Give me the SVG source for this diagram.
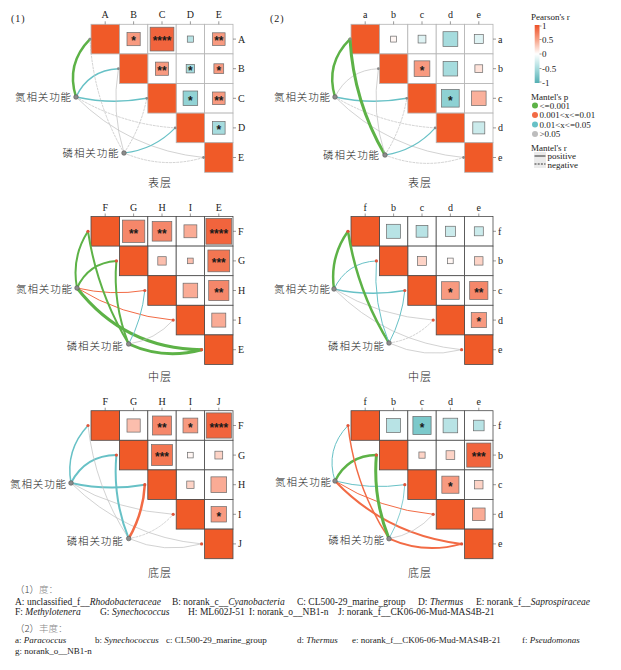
<svg xmlns="http://www.w3.org/2000/svg" xmlns:xlink="http://www.w3.org/1999/xlink" width="621" height="670" viewBox="0 0 621 670">
<style>
text{font-family:"Liberation Serif","Times New Roman",serif;fill:#222}
.cjk{font-family:"Noto Sans CJK SC","Noto Sans CJK JP",sans-serif;font-weight:300}
.lab{font-size:10px}
.st text{font-family:"Liberation Sans",Arial,sans-serif;font-size:12px;font-weight:bold;text-anchor:middle;fill:#1a1a1a}
.sq rect{stroke:#6a6a6a;stroke-width:0.7}
.gl1{stroke:#b4b4b4;stroke-width:0.8}
.gl2{stroke:#4a4a4a;stroke-width:0.8}
.tk{stroke:#555;stroke-width:0.6}
.cn path{fill:none;stroke-linecap:round}
.g{stroke:#5DB247}
.o{stroke:#F26B45}
.t{stroke:#67C1C6}
.s{stroke:#BEBEBE;stroke-width:0.7}
.d{stroke:#BEBEBE;stroke-width:0.7;stroke-dasharray:2 1.6}
.nd{fill:#8c8c8c;stroke:#555;stroke-width:0.6}
.ed1{fill:#8a8a8a}
.ed2{fill:#E0553A}
.ft{font-size:9.5px}
.ft2{font-size:9px}
.it{font-style:italic}
.lg{font-size:9px}
</style>
<defs>
<g id="grid">
<rect x="28.4" y="0" width="28.4" height="29.6" fill="#fff"/>
<rect x="56.8" y="0" width="28.4" height="29.6" fill="#fff"/>
<rect x="85.2" y="0" width="28.4" height="29.6" fill="#fff"/>
<rect x="113.6" y="0" width="28.4" height="29.6" fill="#fff"/>
<rect x="56.8" y="29.6" width="28.4" height="29.6" fill="#fff"/>
<rect x="85.2" y="29.6" width="28.4" height="29.6" fill="#fff"/>
<rect x="113.6" y="29.6" width="28.4" height="29.6" fill="#fff"/>
<rect x="85.2" y="59.2" width="28.4" height="29.6" fill="#fff"/>
<rect x="113.6" y="59.2" width="28.4" height="29.6" fill="#fff"/>
<rect x="113.6" y="88.8" width="28.4" height="29.6" fill="#fff"/>
<rect x="0" y="0" width="28.4" height="29.6" fill="#F05A28"/>
<rect x="28.4" y="29.6" width="28.4" height="29.6" fill="#F05A28"/>
<rect x="56.8" y="59.2" width="28.4" height="29.6" fill="#F05A28"/>
<rect x="85.2" y="88.8" width="28.4" height="29.6" fill="#F05A28"/>
<rect x="113.6" y="118.4" width="28.4" height="29.6" fill="#F05A28"/>
</g>
<path id="ticks" class="tk" d="M14.2 -3V0M42.6 -3V0M71 -3V0M99.4 -3V0M127.8 -3V0M142 14.8H145M142 44.4H145M142 74H145M142 103.6H145M142 133.2H145"/>
<linearGradient id="cbar" x1="0" y1="0" x2="0" y2="1">
<stop offset="0" stop-color="#EE5128"/>
<stop offset="0.25" stop-color="#F7A186"/>
<stop offset="0.5" stop-color="#FFFFFF"/>
<stop offset="0.75" stop-color="#A8DCDE"/>
<stop offset="1" stop-color="#53AFB3"/>
</linearGradient>
</defs>
<rect width="621" height="670" fill="#fff"/>

<text x="11" y="22" class="lab" letter-spacing="1">(1)</text>
<text x="270" y="22" class="lab" letter-spacing="1">(2)</text>

<!-- Panel 1 -->
<g id="matrix1" transform="translate(91,24.3)">
<use href="#grid" class="gl1"/>
<use href="#ticks"/>
<g class="sq">
<rect x="36" y="8.2" width="13.2" height="13.2" fill="#F89A80"/>
<rect x="59.1" y="2.9" width="23.8" height="23.8" fill="#F1643D"/>
<rect x="96.3" y="11.7" width="6.2" height="6.2" fill="#B8E3E5"/>
<rect x="121.5" y="8.5" width="12.6" height="12.6" fill="#F89A80"/>
<rect x="64.4" y="37.8" width="13.2" height="13.2" fill="#F89A80"/>
<rect x="95.2" y="40.2" width="8.4" height="8.4" fill="#A6DCDE"/>
<rect x="122.9" y="39.5" width="9.8" height="9.8" fill="#F89A80"/>
<rect x="92.1" y="66.7" width="14.6" height="14.6" fill="#92D3D5"/>
<rect x="121.5" y="67.7" width="12.6" height="12.6" fill="#F89A80"/>
<rect x="121.5" y="97.3" width="12.6" height="12.6" fill="#A6DCDE"/>
</g>
<g class="st">
<text x="42.6" y="21.1">*</text><text x="71" y="21.1">****</text><text x="127.8" y="21.1">**</text>
<text x="71" y="50.7">**</text><text x="99.4" y="50.7">*</text><text x="127.8" y="50.7">*</text>
<text x="99.4" y="80.3">*</text><text x="127.8" y="80.3">**</text><text x="127.8" y="109.9">*</text>
</g>
<g class="lab" text-anchor="middle">
<text x="14.2" y="-6">A</text><text x="42.6" y="-6">B</text><text x="71" y="-6">C</text><text x="99.4" y="-6">D</text><text x="127.8" y="-6">E</text>
</g>
<g class="lab">
<text x="147" y="18.3">A</text><text x="147" y="47.9">B</text><text x="147" y="77.5">C</text><text x="147" y="107.1">D</text><text x="147" y="136.7">E</text>
</g>
</g>

<!-- Panel 2 -->
<g id="matrix2" transform="translate(351,24.3)">
<use href="#grid" class="gl1"/>
<use href="#ticks"/>
<g class="sq">
<rect x="39.65" y="11.85" width="5.9" height="5.9" fill="#FFF6F3"/>
<rect x="67.1" y="10.9" width="7.8" height="7.8" fill="#DFF3F4"/>
<rect x="92" y="7.4" width="14.8" height="14.8" fill="#A6DCDE"/>
<rect x="123.3" y="10.3" width="9" height="9" fill="#DFF3F4"/>
<rect x="63.15" y="36.55" width="15.7" height="15.7" fill="#F89A80"/>
<rect x="92.1" y="37.1" width="14.6" height="14.6" fill="#A6DCDE"/>
<rect x="123.9" y="40.5" width="7.8" height="7.8" fill="#FEE2D9"/>
<rect x="90.6" y="65.2" width="17.6" height="17.6" fill="#8ED1D3"/>
<rect x="120.5" y="66.7" width="14.6" height="14.6" fill="#FAB09B"/>
<rect x="121.8" y="97.6" width="12" height="12" fill="#CBEBEC"/>
</g>
<g class="st">
<text x="71" y="50.7">*</text><text x="99.4" y="80.3">*</text>
</g>
<g class="lab" text-anchor="middle">
<text x="14.2" y="-6">a</text><text x="42.6" y="-6">b</text><text x="71" y="-6">c</text><text x="99.4" y="-6">d</text><text x="127.8" y="-6">e</text>
</g>
<g class="lab">
<text x="147" y="18.3">a</text><text x="147" y="47.9">b</text><text x="147" y="77.5">c</text><text x="147" y="107.1">d</text><text x="147" y="136.7">e</text>
</g>
</g>

<!-- Panel 3 -->
<g id="matrix3" transform="translate(91,216.5)">
<use href="#grid" class="gl2"/>
<use href="#ticks"/>
<g class="sq">
<rect x="31.4" y="3.6" width="22.4" height="22.4" fill="#F5876A"/>
<rect x="61.2" y="5" width="19.6" height="19.6" fill="#F5876A"/>
<rect x="92.95" y="8.35" width="12.9" height="12.9" fill="#FAAB95"/>
<rect x="114.9" y="1.9" width="25.8" height="25.8" fill="#F1643D"/>
<rect x="66.8" y="40.2" width="8.4" height="8.4" fill="#FBBEAD"/>
<rect x="96.6" y="41.6" width="5.6" height="5.6" fill="#FBBEAD"/>
<rect x="116.9" y="33.5" width="21.8" height="21.8" fill="#F37652"/>
<rect x="92.1" y="66.7" width="14.6" height="14.6" fill="#FAAB95"/>
<rect x="117.7" y="63.9" width="20.2" height="20.2" fill="#F5876A"/>
<rect x="120.8" y="96.6" width="14" height="14" fill="#FAAB95"/>
</g>
<g class="st">
<text x="42.6" y="21.1">**</text><text x="71" y="21.1">**</text><text x="127.8" y="21.1">****</text>
<text x="127.8" y="50.7">***</text><text x="127.8" y="80.3">**</text>
</g>
<g class="lab" text-anchor="middle">
<text x="14.2" y="-6">F</text><text x="42.6" y="-6">G</text><text x="71" y="-6">H</text><text x="99.4" y="-6">I</text><text x="127.8" y="-6">E</text>
</g>
<g class="lab">
<text x="147" y="18.3">F</text><text x="147" y="47.9">G</text><text x="147" y="77.5">H</text><text x="147" y="107.1">I</text><text x="147" y="136.7">E</text>
</g>
</g>

<!-- Panel 4 -->
<g id="matrix4" transform="translate(351,216.5)">
<use href="#grid" class="gl2"/>
<use href="#ticks"/>
<g class="sq">
<rect x="35.6" y="7.8" width="14" height="14" fill="#B8E3E5"/>
<rect x="65.1" y="8.9" width="11.8" height="11.8" fill="#B8E3E5"/>
<rect x="94.35" y="9.75" width="10.1" height="10.1" fill="#CBEBEC"/>
<rect x="123.3" y="10.3" width="9" height="9" fill="#CBEBEC"/>
<rect x="66.5" y="39.9" width="9" height="9" fill="#FDD3C6"/>
<rect x="96.6" y="41.6" width="5.6" height="5.6" fill="#FFF6F3"/>
<rect x="123.6" y="40.2" width="8.4" height="8.4" fill="#FDD3C6"/>
<rect x="90.6" y="65.2" width="17.6" height="17.6" fill="#F89A80"/>
<rect x="118.7" y="64.9" width="18.2" height="18.2" fill="#F5876A"/>
<rect x="120.25" y="96.05" width="15.1" height="15.1" fill="#F89A80"/>
</g>
<g class="st">
<text x="99.4" y="80.3">*</text><text x="127.8" y="80.3">**</text><text x="127.8" y="109.9">*</text>
</g>
<g class="lab" text-anchor="middle">
<text x="14.2" y="-6">f</text><text x="42.6" y="-6">b</text><text x="71" y="-6">c</text><text x="99.4" y="-6">d</text><text x="127.8" y="-6">e</text>
</g>
<g class="lab">
<text x="147" y="18.3">f</text><text x="147" y="47.9">b</text><text x="147" y="77.5">c</text><text x="147" y="107.1">d</text><text x="147" y="136.7">e</text>
</g>
</g>

<!-- Panel 5 -->
<g id="matrix5" transform="translate(91,410.7)">
<use href="#grid" class="gl2"/>
<use href="#ticks"/>
<g class="sq">
<rect x="36" y="8.2" width="13.2" height="13.2" fill="#FBBEAD"/>
<rect x="61.5" y="5.3" width="19" height="19" fill="#F5876A"/>
<rect x="92" y="7.4" width="14.8" height="14.8" fill="#F89A80"/>
<rect x="115.2" y="2.2" width="25.2" height="25.2" fill="#F1643D"/>
<rect x="60.5" y="33.9" width="21" height="21" fill="#F37652"/>
<rect x="96.6" y="41.6" width="5.6" height="5.6" fill="#FFF6F3"/>
<rect x="123.9" y="40.5" width="7.8" height="7.8" fill="#FDD3C6"/>
<rect x="95.75" y="70.35" width="7.3" height="7.3" fill="#FDD3C6"/>
<rect x="119.95" y="66.15" width="15.7" height="15.7" fill="#FAAB95"/>
<rect x="120.1" y="95.9" width="15.4" height="15.4" fill="#F89A80"/>
</g>
<g class="st">
<text x="71" y="21.1">**</text><text x="99.4" y="21.1">*</text><text x="127.8" y="21.1">****</text>
<text x="71" y="50.7">***</text><text x="127.8" y="109.9">*</text>
</g>
<g class="lab" text-anchor="middle">
<text x="14.2" y="-6">F</text><text x="42.6" y="-6">G</text><text x="71" y="-6">H</text><text x="99.4" y="-6">I</text><text x="127.8" y="-6">J</text>
</g>
<g class="lab">
<text x="147" y="18.3">F</text><text x="147" y="47.9">G</text><text x="147" y="77.5">H</text><text x="147" y="107.1">I</text><text x="147" y="136.7">J</text>
</g>
</g>

<!-- Panel 6 -->
<g id="matrix6" transform="translate(351,410.7)">
<use href="#grid" class="gl2"/>
<use href="#ticks"/>
<g class="sq">
<rect x="35.6" y="7.8" width="14" height="14" fill="#B8E3E5"/>
<rect x="61.9" y="5.7" width="18.2" height="18.2" fill="#7CC9CB"/>
<rect x="92.1" y="7.5" width="14.6" height="14.6" fill="#B8E3E5"/>
<rect x="122.5" y="9.5" width="10.6" height="10.6" fill="#B8E3E5"/>
<rect x="67.9" y="41.3" width="6.2" height="6.2" fill="#FDD3C6"/>
<rect x="95.05" y="40.05" width="8.7" height="8.7" fill="#FDD3C6"/>
<rect x="115.75" y="32.35" width="24.1" height="24.1" fill="#F1643D"/>
<rect x="90.85" y="65.45" width="17.1" height="17.1" fill="#F89A80"/>
<rect x="123.6" y="69.8" width="8.4" height="8.4" fill="#FDD3C6"/>
<rect x="121.5" y="97.3" width="12.6" height="12.6" fill="#FAAB95"/>
</g>
<g class="st">
<text x="71" y="21.1">*</text><text x="127.8" y="50.7">***</text><text x="99.4" y="80.3">*</text>
</g>
<g class="lab" text-anchor="middle">
<text x="14.2" y="-6">f</text><text x="42.6" y="-6">b</text><text x="71" y="-6">c</text><text x="99.4" y="-6">d</text><text x="127.8" y="-6">e</text>
</g>
<g class="lab">
<text x="147" y="18.3">f</text><text x="147" y="47.9">b</text><text x="147" y="77.5">c</text><text x="147" y="107.1">d</text><text x="147" y="136.7">e</text>
</g>
</g>

<!-- Connectors -->
<g id="connectors" class="cn">
<path class="g" stroke-width="2.5" d="M76 97Q65.6 63.8 90 39.1"/>
<path class="t" stroke-width="1.5" d="M76 97Q88.7 70.1 118.4 68.7"/>
<path class="t" stroke-width="1.5" d="M76 97Q111.3 104.7 146.8 98.3"/>
<path class="d" d="M76 97Q121.9 124.4 175.2 127.9"/>
<path class="s" d="M76 97Q128.9 150.2 203.6 157.5"/>
<path class="d" d="M124 153Q93.3 100.1 90 39.1"/>
<path class="s" d="M124 153Q111.1 111.5 118.4 68.7"/>
<path class="d" d="M124 153Q140.9 127.9 146.8 98.3"/>
<path class="t" stroke-width="1.2" d="M124 153Q154.1 149.7 175.2 127.9"/>
<path class="d" d="M124 153Q163 169.6 203.6 157.5"/>

<path class="g" stroke-width="2.5" d="M335 97Q325.1 63.6 350 39.1"/>
<path class="s" d="M335 97Q348.2 69.8 378.4 68.7"/>
<path class="t" stroke-width="1.5" d="M335 97Q370.8 104.8 406.8 98.3"/>
<path class="d" d="M335 97Q381.4 124.5 435.2 127.9"/>
<path class="s" d="M335 97Q388.4 150.4 463.6 157.5"/>
<path class="g" stroke-width="3" d="M385 155Q353.6 101.3 350 39.1"/>
<path class="s" d="M385 155Q371.3 112.6 378.4 68.7"/>
<path class="d" d="M385 155Q401.6 128.8 406.8 98.3"/>
<path class="t" stroke-width="1.2" d="M385 155Q415 150.5 435.2 127.9"/>
<path class="d" d="M385 155Q423.9 170.4 463.6 157.5"/>

<path class="g" stroke-width="2" d="M77 288Q71.2 257.5 88 231.3"/>
<path class="g" stroke-width="2" d="M77 288Q88.6 262.6 116.4 260.9"/>
<path class="o" stroke-width="1" d="M77 288Q110.7 296 144.8 290.5"/>
<path class="o" stroke-width="1" d="M77 288Q121.3 315.6 173.2 320.1"/>
<path class="g" stroke-width="3" d="M77 288Q124.5 348.8 201.6 349.7"/>
<path class="g" stroke-width="2" d="M128.7 344Q97.1 291.7 88 231.3"/>
<path class="g" stroke-width="2" d="M128.7 344Q112.6 303.9 116.4 260.9"/>
<path class="t" stroke-width="1" d="M128.7 344Q142.1 318.9 144.8 290.5"/>
<path class="s" stroke-width="0.6" d="M128.7 344Q155.3 340.1 173.2 320.1"/>
<path class="g" stroke-width="3" d="M128.7 344Q164.1 360 201.6 349.7"/>

<path class="g" stroke-width="2.5" d="M334 289Q329.5 257.4 348 231.3"/>
<path class="t" stroke-width="1" d="M334 289Q346.8 262.2 376.4 260.9"/>
<path class="t" stroke-width="1.5" d="M334 289Q369.25 296.8 404.8 290.5"/>
<path class="s" stroke-width="0.6" d="M334 289Q379.9 316.5 433.2 320.1"/>
<path class="s" stroke-width="0.6" d="M334 289Q386.9 342.3 461.6 349.7"/>
<path class="g" stroke-width="2.5" d="M389 343Q357.3 291.3 348 231.3"/>
<path class="t" stroke-width="1" d="M389 343Q372.9 303.5 376.4 260.9"/>
<path class="t" stroke-width="1" d="M389 343Q402.2 318.3 404.8 290.5"/>
<path class="d" d="M389 343Q415.2 339.5 433.2 320.1"/>
<path class="s" stroke-width="0.6" d="M389 343Q424.1 359.4 461.6 349.7"/>

<path class="t" stroke-width="1.5" d="M71 483Q65.1 450 88 425.5"/>
<path class="t" stroke-width="2" d="M71 483Q85.3 455.4 116.4 455.1"/>
<path class="t" stroke-width="2" d="M71 483Q107.7 491.2 144.8 484.7"/>
<path class="s" stroke-width="0.6" d="M71 483Q118.3 510.9 173.2 514.3"/>
<path class="s" stroke-width="0.6" d="M71 483Q125.3 537 201.6 543.9"/>
<path class="s" stroke-width="0.8" d="M128.7 538.5Q94.8 486.9 88 425.5"/>
<path class="t" stroke-width="2" d="M128.7 538.5Q112.5 498.3 116.4 455.1"/>
<path class="o" stroke-width="2.5" d="M128.7 538.5Q143.2 513.5 144.8 484.7"/>
<path class="d" d="M128.7 538.5Q155.3 534.4 173.2 514.3"/>
<path class="s" stroke-width="0.6" d="M128.7 538.5Q164.2 554.3 201.6 543.9"/>

<path class="t" stroke-width="1" d="M335 481Q324.85 449.35 348 425.5"/>
<path class="g" stroke-width="2.5" d="M335 481Q347.9 455.6 376.4 455.1"/>
<path class="t" stroke-width="1" d="M335 481Q369.5 489.8 404.8 484.7"/>
<path class="o" stroke-width="1" d="M335 481Q380.1 509.4 433.2 514.3"/>
<path class="o" stroke-width="2" d="M335 481Q387 535.2 461.6 543.9"/>
<path class="o" stroke-width="1.5" d="M389 538.7Q354.9 487 348 425.5"/>
<path class="g" stroke-width="3" d="M389 538.7Q372.7 498.4 376.4 455.1"/>
<path class="t" stroke-width="0.8" d="M389 538.7Q403.4 513.6 404.8 484.7"/>
<path class="s" stroke-width="0.6" d="M389 538.7Q415.5 534.5 433.2 514.3"/>
<path class="o" stroke-width="2" d="M389 538.7Q424.4 554.4 461.6 543.9"/>

<g class="ed1">
<circle cx="90" cy="39.1" r="1.4"/><circle cx="118.4" cy="68.7" r="1.4"/><circle cx="146.8" cy="98.3" r="1.4"/><circle cx="175.2" cy="127.9" r="1.4"/><circle cx="203.6" cy="157.5" r="1.4"/>
<circle cx="350" cy="39.1" r="1.4"/><circle cx="378.4" cy="68.7" r="1.4"/><circle cx="406.8" cy="98.3" r="1.4"/><circle cx="435.2" cy="127.9" r="1.4"/><circle cx="463.6" cy="157.5" r="1.4"/>
</g>
<g class="ed2">
<circle cx="88" cy="231.3" r="1.6"/><circle cx="116.4" cy="260.9" r="1.6"/><circle cx="144.8" cy="290.5" r="1.6"/><circle cx="173.2" cy="320.1" r="1.6"/><circle cx="201.6" cy="349.7" r="1.6"/>
<circle cx="348" cy="231.3" r="1.6"/><circle cx="376.4" cy="260.9" r="1.6"/><circle cx="404.8" cy="290.5" r="1.6"/><circle cx="433.2" cy="320.1" r="1.6"/><circle cx="461.6" cy="349.7" r="1.6"/>
<circle cx="88" cy="425.5" r="1.6"/><circle cx="116.4" cy="455.1" r="1.6"/><circle cx="144.8" cy="484.7" r="1.6"/><circle cx="173.2" cy="514.3" r="1.6"/><circle cx="201.6" cy="543.9" r="1.6"/>
<circle cx="348" cy="425.5" r="1.6"/><circle cx="376.4" cy="455.1" r="1.6"/><circle cx="404.8" cy="484.7" r="1.6"/><circle cx="433.2" cy="514.3" r="1.6"/><circle cx="461.6" cy="543.9" r="1.6"/>
</g>
</g>

<!-- Env nodes -->
<g id="n1"><circle class="nd" cx="76" cy="97" r="2.3"/><text class="cjk" x="15" y="101" font-size="10.5" textLength="56" lengthAdjust="spacing">氮相关功能</text></g>
<g id="p1"><circle class="nd" cx="124" cy="153" r="2.3"/><text class="cjk" x="62.5" y="157" font-size="10.5" textLength="56" lengthAdjust="spacing">磷相关功能</text></g>
<g id="n2"><circle class="nd" cx="335" cy="97" r="2.3"/><text class="cjk" x="274" y="101" font-size="10.5" textLength="56" lengthAdjust="spacing">氮相关功能</text></g>
<g id="p2"><circle class="nd" cx="385" cy="155" r="2.3"/><text class="cjk" x="323" y="159" font-size="10.5" textLength="56" lengthAdjust="spacing">磷相关功能</text></g>
<g id="n3"><circle class="nd" cx="77" cy="288" r="2.3"/><text class="cjk" x="16" y="292.5" font-size="10.5" textLength="56" lengthAdjust="spacing">氮相关功能</text></g>
<g id="p3"><circle class="nd" cx="128.7" cy="344" r="2.3"/><text class="cjk" x="66.7" y="349.5" font-size="10.5" textLength="56" lengthAdjust="spacing">磷相关功能</text></g>
<g id="n4"><circle class="nd" cx="334" cy="289" r="2.3"/><text class="cjk" x="274" y="293" font-size="10.5" textLength="56" lengthAdjust="spacing">氮相关功能</text></g>
<g id="p4"><circle class="nd" cx="389" cy="343" r="2.3"/><text class="cjk" x="328" y="349.5" font-size="10.5" textLength="56" lengthAdjust="spacing">磷相关功能</text></g>
<g id="n5"><circle class="nd" cx="71" cy="483" r="2.3"/><text class="cjk" x="10" y="487.5" font-size="10.5" textLength="56" lengthAdjust="spacing">氮相关功能</text></g>
<g id="p5"><circle class="nd" cx="128.7" cy="538.5" r="2.3"/><text class="cjk" x="66.7" y="544.5" font-size="10.5" textLength="56" lengthAdjust="spacing">磷相关功能</text></g>
<g id="n6"><circle class="nd" cx="335" cy="481" r="2.3"/><text class="cjk" x="275" y="486" font-size="10.5" textLength="56" lengthAdjust="spacing">氮相关功能</text></g>
<g id="p6"><circle class="nd" cx="389" cy="538.7" r="2.3"/><text class="cjk" x="328.3" y="544" font-size="10.5" textLength="56" lengthAdjust="spacing">磷相关功能</text></g>

<!-- Panel titles -->
<g font-size="11" text-anchor="middle" letter-spacing="1">
<text class="cjk" x="160" y="187">表层</text>
<text class="cjk" x="420" y="187">表层</text>
<text class="cjk" x="160" y="381">中层</text>
<text class="cjk" x="420" y="381">中层</text>
<text class="cjk" x="160" y="577">底层</text>
<text class="cjk" x="420" y="577">底层</text>
</g>

<!-- Legend -->
<g id="legend">
<text x="531" y="19.5" font-size="9">Pearson's r</text>
<rect x="534.7" y="25" width="4.8" height="58" fill="url(#cbar)"/>
<path class="tk" d="M539.5 26H541.5M539.5 39.5H541.5M539.5 54H541.5M539.5 68.5H541.5M539.5 82H541.5"/>
<g font-size="9">
<text x="542" y="29">1</text>
<text x="542" y="42.5">0.5</text>
<text x="542" y="57">0</text>
<text x="542" y="71.5">-0.5</text>
<text x="542" y="85.5">-1</text>
</g>
<text x="531" y="99.5" font-size="9">Mantel's p</text>
<circle cx="535" cy="105.5" r="3" fill="#5DB247"/>
<circle cx="535" cy="115" r="3" fill="#F26B45"/>
<circle cx="535" cy="124.5" r="3" fill="#67C1C6"/>
<circle cx="535" cy="134" r="3" fill="#BDBDBD"/>
<g class="lg">
<text x="539.5" y="108.6">&lt;=0.001</text>
<text x="539.5" y="118.1">0.001&lt;x&lt;=0.01</text>
<text x="539.5" y="127.6">0.01&lt;x&lt;=0.05</text>
<text x="539.5" y="137.1">&gt;0.05</text>
</g>
<text x="531" y="150.5" font-size="9">Mantel's r</text>
<rect x="534" y="152" width="12" height="16" fill="#EBEBEB"/>
<path d="M534.5 156H545.5" stroke="#333" stroke-width="1"/>
<path d="M534.5 164H545.5" stroke="#333" stroke-width="1" stroke-dasharray="2 1.2"/>
<text x="547.5" y="159" class="lg">positive</text>
<text x="547.5" y="167.5" class="lg">negative</text>
</g>

<!-- Footer -->
<g id="footer" class="ft">
<text x="15" y="593"><tspan class="cjk" fill="#444">（1）</tspan><tspan class="cjk" fill="#888">度：</tspan></text>
<text y="604.5"><tspan x="15">A: unclassified_f__</tspan><tspan class="it">Rhodobacteraceae</tspan><tspan x="172">B: norank_c__</tspan><tspan class="it">Cyanobacteria</tspan><tspan x="297">C: CL500-29_marine_group</tspan><tspan x="418">D: </tspan><tspan class="it">Thermus</tspan><tspan x="476">E: norank_f__</tspan><tspan class="it">Saprospiraceae</tspan></text>
<text y="615"><tspan x="15">F: </tspan><tspan class="it">Methylotenera</tspan><tspan x="100">G: </tspan><tspan class="it">Synechococcus</tspan><tspan x="188">H: ML602J-51</tspan><tspan x="249">I: norank_o__NB1-n</tspan><tspan x="338">J: norank_f__CK06-06-Mud-MAS4B-21</tspan></text>
<text x="15" y="631.5"><tspan class="cjk" fill="#444">（2）</tspan><tspan class="cjk" fill="#888">丰度：</tspan></text>
<text y="642.5" class="ft2"><tspan x="15">a: </tspan><tspan class="it">Paracoccus</tspan><tspan x="95">b: </tspan><tspan class="it">Synechococcus</tspan><tspan x="166">c: CL500-29_marine_group</tspan><tspan x="297">d: </tspan><tspan class="it">Thermus</tspan><tspan x="352">e: norank_f__CK06-06-Mud-MAS4B-21</tspan><tspan x="522">f: </tspan><tspan class="it">Pseudomonas</tspan></text>
<text x="15" y="653.5" class="ft2">g: norank_o__NB1-n</text>
</g>
</svg>
